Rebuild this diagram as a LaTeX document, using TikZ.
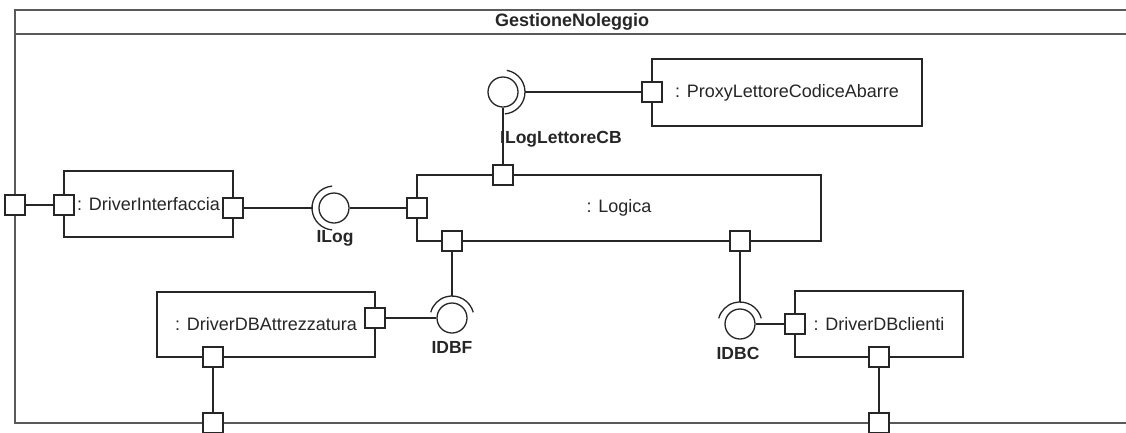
\documentclass[tikz,border=0pt]{standalone}
\usepackage{fontspec}
\setmainfont{Liberation Sans}
\usetikzlibrary{calc}
\begin{document}
\begin{tikzpicture}[x=1pt,y=-1pt,
  every node/.style={font=\fontsize{18}{20}\selectfont, text=black!85},
  comp/.style={draw=black!85, line width=1.3pt, fill=white, inner sep=0pt},
  port/.style={draw=black!85, line width=1.3pt, fill=white, minimum size=20pt, inner sep=0pt},
  ball/.style={circle, draw=black!85, line width=1.3pt, minimum size=30pt, inner sep=0pt},
  conn/.style={draw=black!85, line width=1.3pt},
  socket/.style={draw=black!85, line width=1.3pt},
  iface/.style={font=\bfseries\fontsize{17.5}{20}\selectfont},
  frameline/.style={draw=black!65, line width=2pt}]
\useasboundingbox (0,0) rectangle (1126,432);
\clip (0,0) rectangle (1126,432);
\fill[white] (0,0) rectangle (1126,432);

% enclosing component with its title bar
\draw[frameline] (15,10) rectangle (1140,423);
\draw[frameline] (15,34) -- (1140,34);
\node[font=\bfseries\fontsize{18}{20}\selectfont] (title) at (572,22) {GestioneNoleggio};

% parts
\node[comp, minimum width=404pt, minimum height=66pt] (logica) at (619,208) {: Logica};
\node[comp, minimum width=270pt, minimum height=67pt] (proxy) at (787,92.5) {: ProxyLettoreCodiceAbarre};
\node[comp, minimum width=169pt, minimum height=66pt] (drvint) at (148.5,204) {: DriverInterfaccia};
\node[comp, minimum width=218pt, minimum height=65pt] (drvattr) at (266,324.5) {: DriverDBAttrezzatura};
\node[comp, minimum width=168pt, minimum height=66pt] (drvcli) at (879,324) {: DriverDBclienti};

% ports of the enclosing component
\node[port] (fpL) at (15,205) {};
\node[port] (fpB1) at (213,423) {};
\node[port] (fpB2) at (879,423) {};

% ports of the parts
\node[port] (pLt) at (503,175) {};
\node[port] (pLl) at (417,208) {};
\node[port] (pLbl) at (452,241) {};
\node[port] (pLbr) at (740,241) {};
\node[port] (pPl) at (652,92) {};
\node[port] (pDIl) at (64,205) {};
\node[port] (pDIr) at (233,208) {};
\node[port] (pDAr) at (375,318) {};
\node[port] (pDAb) at (213,357) {};
\node[port] (pDCl) at (795,324) {};
\node[port] (pDCb) at (879,357) {};

% provided interfaces (balls) and required interfaces (sockets)
\node[ball] (ilogcb) at (503,92) {};
\draw[socket] ($(ilogcb.center)+(80:22pt)$) arc[start angle=80, end angle=-85, radius=22pt];
\coordinate (ilogcbS) at ($(ilogcb.center)+(0:22pt)$);

\node[ball] (ilog) at (334,208) {};
\draw[socket] ($(ilog.center)+(95:22pt)$) arc[start angle=95, end angle=265, radius=22pt];
\coordinate (ilogS) at ($(ilog.center)+(180:22pt)$);

\node[ball] (idbf) at (452,318) {};
\draw[socket] ($(idbf.center)+(15:22pt)$) arc[start angle=15, end angle=165, radius=22pt];
\coordinate (idbfS) at ($(idbf.center)+(90:22pt)$);

\node[ball] (idbc) at (740,324) {};
\draw[socket] ($(idbc.center)+(15:22pt)$) arc[start angle=15, end angle=165, radius=22pt];
\coordinate (idbcS) at ($(idbc.center)+(90:22pt)$);

% interface names
\node[iface, anchor=west, inner sep=0pt] (lblcb) at (500,139) {ILogLettoreCB};
\node[iface] (lbllog) at (335,238) {ILog};
\node[iface] (lbldbf) at (452,347) {IDBF};
\node[iface] (lbldbc) at (738,353) {IDBC};

% connectors
\draw[conn] (fpL) -- (pDIl);
\draw[conn] (pDIr) -- (ilogS);
\draw[conn] (ilog) -- (pLl);
\draw[conn] (ilogcb) -- (pLt);
\draw[conn] (ilogcbS) -- (pPl);
\draw[conn] (pLbl) -- (idbfS);
\draw[conn] (pDAr) -- (idbf);
\draw[conn] (pDAb) -- (fpB1);
\draw[conn] (pLbr) -- (idbcS);
\draw[conn] (idbc) -- (pDCl);
\draw[conn] (pDCb) -- (fpB2);
\end{tikzpicture}
\end{document}
